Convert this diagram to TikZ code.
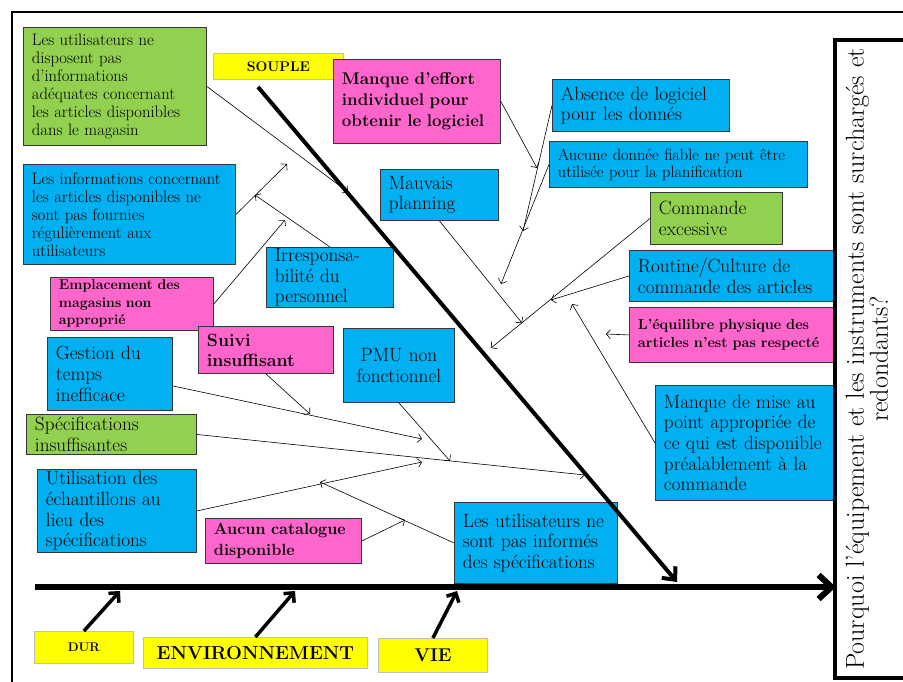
\documentclass[tikz,border=0pt]{standalone}
\usepackage{tikz}
\usetikzlibrary{arrows.meta}
\definecolor{bleu}{RGB}{0,176,240}
\definecolor{rose}{RGB}{255,102,204}
\definecolor{vert}{RGB}{146,208,80}
\definecolor{jaune}{RGB}{255,255,0}
\definecolor{bord}{RGB}{55,55,55}

\begin{document}
\begin{tikzpicture}[x=1pt, y=-1pt,
    cause/.style 2 args={draw=bord, line width=0.9pt, anchor=north west, align=left,
        inner xsep=8.5pt, inner ysep=0pt, minimum width=#1, minimum height=#2, text width=#1-17pt},
    etiq/.style 2 args={fill=jaune, draw=black!25, line width=0.8pt, anchor=north west,
        inner sep=0pt, minimum width=#1, minimum height=#2},
    petit/.style={font=\fontsize{16.6}{18}\selectfont},
    moyen/.style={font=\fontsize{19.2}{20.7}\selectfont},
    fleche/.style={line width=0.6pt, -{Straight Barb[length=4pt,width=9pt]}},
    os/.style={line width=3.5pt, -{Straight Barb[length=7pt,width=14pt]}}]
    \useasboundingbox (0,0) rectangle (903,682);
    \draw[line width=1.5pt] (12,690) -- (12,12) -- (910,12);

    % etiquettes jaunes
    \node[etiq={130pt}{26pt}, font=\fontsize{14}{15}\selectfont\bfseries] (souple) at (213,53) {SOUPLE};
    \node[etiq={99pt}{32pt}, font=\fontsize{12.5}{14}\selectfont\bfseries] (dur) at (34,631) {DUR};
    \node[etiq={224pt}{31pt}, font=\fontsize{18.8}{20}\selectfont\bfseries] (env) at (143,637) {ENVIRONNEMENT};
    \node[etiq={109pt}{34pt}, font=\fontsize{18.5}{20}\selectfont\bfseries] (vie) at (378,638) {VIE};

    % causes
    \node[cause={183pt}{118pt}, fill=vert, petit] (desinfo) at (23,27)
        {Les utilisateurs ne\\disposent pas\\d’informations\\adéquates concernant\\les articles disponibles\\dans le magasin};
    \node[cause={212pt}{100pt}, fill=bleu, petit] (infos) at (23,164)
        {Les informations concernant\\les articles disponibles ne\\sont pas fournies\\régulièrement aux\\utilisateurs};
    \node[cause={163pt}{53pt}, fill=rose, font=\fontsize{14.1}{17.5}\selectfont\bfseries] (emplacement) at (50,277)
        {Emplacement des\\magasins non\\approprié};
    \node[cause={127pt}{60pt}, fill=bleu, moyen] (irresp) at (266,247)
        {Irresponsa-\\bilité du\\personnel};
    \node[cause={167pt}{84pt}, fill=rose, font=\fontsize{16.9}{21}\selectfont\bfseries] (effort) at (333,59)
        {Manque d’effort\\individuel pour\\obtenir le logiciel};
    \node[cause={177pt}{52pt}, fill=bleu, moyen] (logiciel) at (552,79)
        {Absence de logiciel\\pour les donnés};
    \node[cause={258pt}{46pt}, fill=bleu, font=\fontsize{16.4}{17}\selectfont] (donnees) at (549,141)
        {Aucune donnée fiable ne peut être\\utilisée pour la planification};
    \node[cause={132pt}{52pt}, fill=vert, moyen] (excessive) at (650,192)
        {Commande\\excessive};
    \node[cause={204pt}{51pt}, fill=bleu, moyen] (routine) at (629,250)
        {Routine/Culture de\\commande des articles};
    \node[cause={204pt}{55pt}, fill=rose, font=\fontsize{14.5}{18}\selectfont\bfseries] (equilibre) at (629,307)
        {L’équilibre physique des\\articles n’est pas respecté};
    \node[cause={118pt}{51pt}, fill=bleu, moyen] (planning) at (380,169)
        {Mauvais\\planning};
    \node[cause={178pt}{115pt}, fill=bleu, moyen] (miseaupoint) at (655,385)
        {Manque de mise au\\point appropriée de\\ce qui est disponible\\préalablement à la\\commande};
    \node[cause={135pt}{47pt}, fill=rose, font=\fontsize{17.7}{20}\selectfont\bfseries] (suivi) at (198,326)
        {Suivi\\insuffisant};
    \node[cause={111pt}{74pt}, fill=bleu, moyen, align=center] (pmu) at (343,328)
        {PMU non\\fonctionnel};
    \node[cause={125pt}{73pt}, fill=bleu, moyen] (gestion) at (47,337)
        {Gestion du\\temps\\inefficace};
    \node[cause={170pt}{40pt}, fill=vert, moyen] (specs) at (26,414)
        {Spécifications\\insuffisantes};
    \node[cause={159pt}{83pt}, fill=bleu, moyen] (echantillons) at (37,469)
        {Utilisation des\\échantillons au\\lieu des\\spécifications};
    \node[cause={156pt}{45pt}, fill=rose, font=\fontsize{16.2}{21}\selectfont\bfseries] (catalogue) at (205,518)
        {Aucun catalogue\\disponible};
    \node[cause={163pt}{81pt}, fill=bleu, moyen] (informes) at (454,502)
        {Les utilisateurs ne\\sont pas informés\\des spécifications};

    % effet
    \draw[line width=4pt] (835,40) rectangle (915,678);
    \node[rotate=90, align=center, font=\fontsize{26}{24}\selectfont] (question) at (867,359)
        {Pourquoi l’équipement et les instruments sont surchargés et\\redondants?};

    % aretes
    \coordinate (queue) at (35,587);
    \coordinate (tete) at (836,587);
    \coordinate (haut) at (258,87);
    \coordinate (bas) at (677,582);
    \draw[line width=6pt, -{Straight Barb[length=13pt,width=24pt]}] (queue) -- (tete);
    \draw[line width=4pt, -{Straight Barb[length=10pt,width=18pt]}] (haut) -- (bas);
    \draw[os] (dur.north) -- (120,591);
    \draw[os] (env.north) -- (295,591);
    \draw[os] (vie.north) -- (457,591);

    \coordinate (p1) at (348,192);
    \coordinate (p2) at (287,164);
    \coordinate (p3) at (255,195);
    \coordinate (p4) at (285,220);
    \coordinate (p5) at (537,168);
    \coordinate (p6) at (523,231);
    \coordinate (p7) at (501,284);
    \coordinate (p8) at (522,323);
    \coordinate (p9) at (491,348);
    \coordinate (p10) at (551,300);
    \coordinate (p11) at (606,334);
    \coordinate (p12) at (572,304);
    \coordinate (p13) at (422,439);
    \coordinate (p14) at (310,414);
    \coordinate (p15) at (585,475);
    \coordinate (p16) at (450,461);
    \coordinate (p17) at (422,462);
    \coordinate (p18) at (320,482);
    \coordinate (p19) at (405,520);

    \draw[fleche] (desinfo.east) -- (p1);
    \draw[fleche] (infos.east) -- (p2);
    \draw[fleche] (irresp.north) -- (p3);
    \draw[fleche] (emplacement.east) -- (p4);
    \draw[fleche] (effort.east) -- (p5);
    \draw[fleche] (logiciel.west) -- (p6);
    \draw[fleche] (donnees.west) -- (p7);
    \draw[fleche] (planning.south) -- (p8);
    \draw[fleche] (excessive.west) -- (p9);
    \draw[fleche] (routine.west) -- (p10);
    \draw[fleche] (equilibre.west) -- (p11);
    \draw[fleche] (miseaupoint.west) -- (p12);
    \draw[fleche] ([yshift=-12pt]gestion.east) -- (p13);
    \draw[fleche] (suivi.south) -- (p14);
    \draw[fleche] (specs.east) -- (p15);
    \draw[fleche] (pmu.south) -- (p16);
    \draw[fleche] (echantillons.east) -- (p17);
    \draw[fleche] (informes.west) -- (p18);
    \draw[fleche] (catalogue.east) -- (p19);
\end{tikzpicture}
\end{document}
